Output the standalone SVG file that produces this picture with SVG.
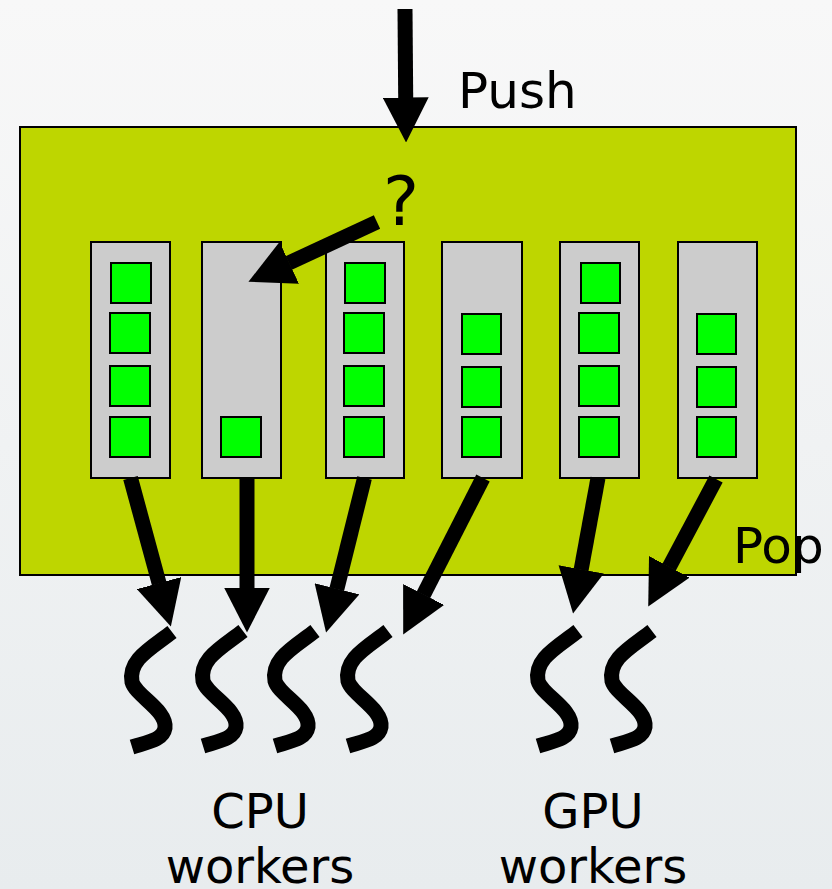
<svg xmlns="http://www.w3.org/2000/svg" xmlns:xlink="http://www.w3.org/1999/xlink" width="832" height="889" viewBox="0 0 832 889">
<defs>
<linearGradient id="bg" x1="0" y1="0" x2="0" y2="1">
<stop offset="0" stop-color="#f8f8f8"/>
<stop offset="1" stop-color="#e8ecee"/>
</linearGradient>
<marker id="head" markerUnits="userSpaceOnUse" viewBox="0 -23 45 46" refX="0.5" refY="0" markerWidth="45" markerHeight="46" orient="auto">
<path d="M0,-23 L45,0 L0,23 Z" fill="#000"/>
</marker>
<path id="sq" d="M0,0 C-22,17 -44,28 -40,50 C-36,64 -5,78 -7,96 C-9,108 -24,110 -40,115"/>
<style>
.lbl{font-family:"DejaVu Sans","Verdana",sans-serif;font-size:48px;fill:#000}
.col{fill:#cccccc;stroke:#000;stroke-width:2}
.item{fill:#00ff00;stroke:#000;stroke-width:2}
.arr{stroke:#000;stroke-width:15;fill:none;marker-end:url(#head)}
.worker{stroke:#000;stroke-width:15;fill:none}
</style>
</defs>
<rect width="832" height="889" fill="url(#bg)"/>
<g id="queue">
<rect x="20" y="127" width="776" height="448" fill="#bed600" stroke="#000" stroke-width="2"/>
</g>
<g id="col1">
<rect class="col" x="91" y="242" width="79" height="236"/>
<rect class="item" x="111" y="263" width="40" height="40"/>
<rect class="item" x="110" y="313" width="40" height="40"/>
<rect class="item" x="110" y="366" width="40" height="40"/>
<rect class="item" x="110" y="417" width="40" height="40"/>
</g>
<g id="col2">
<rect class="col" x="202" y="242" width="79" height="236"/>
<rect class="item" x="221" y="417" width="40" height="40"/>
</g>
<g id="col3">
<rect class="col" x="326" y="242" width="78" height="236"/>
<rect class="item" x="345" y="263" width="40" height="40"/>
<rect class="item" x="344" y="313" width="40" height="40"/>
<rect class="item" x="344" y="366" width="40" height="40"/>
<rect class="item" x="344" y="417" width="40" height="40"/>
</g>
<g id="col4">
<rect class="col" x="442" y="242" width="80" height="236"/>
<rect class="item" x="462" y="314" width="39" height="40"/>
<rect class="item" x="462" y="367" width="39" height="40"/>
<rect class="item" x="462" y="417" width="39" height="40"/>
</g>
<g id="col5">
<rect class="col" x="560" y="242" width="79" height="236"/>
<rect class="item" x="581" y="263" width="39" height="40"/>
<rect class="item" x="579" y="313" width="40" height="40"/>
<rect class="item" x="579" y="366" width="40" height="40"/>
<rect class="item" x="579" y="417" width="40" height="40"/>
</g>
<g id="col6">
<rect class="col" x="678" y="242" width="79" height="236"/>
<rect class="item" x="697" y="314" width="39" height="40"/>
<rect class="item" x="697" y="367" width="39" height="40"/>
<rect class="item" x="697" y="417" width="39" height="40"/>
</g>
<g id="connectors">
<line class="arr" x1="405" y1="9" x2="405.7" y2="98"/>
<line class="arr" x1="377" y1="222" x2="288.8" y2="263"/>
<line class="arr" x1="130.5" y1="478" x2="159.2" y2="583.6"/>
<line class="arr" x1="247" y1="478" x2="247" y2="588"/>
<line class="arr" x1="364.5" y1="478" x2="336.8" y2="589.3"/>
<line class="arr" x1="483" y1="478" x2="423.4" y2="594.9"/>
<line class="arr" x1="598" y1="478" x2="581.1" y2="569.8"/>
<line class="arr" x1="716" y1="479" x2="669.1" y2="567.3"/>
</g>
<g id="cpu-workers">
<use xlink:href="#sq" class="worker" x="172" y="632"/>
<use xlink:href="#sq" class="worker" x="243" y="631"/>
<use xlink:href="#sq" class="worker" x="315" y="631"/>
<use xlink:href="#sq" class="worker" x="388" y="631"/>
</g>
<g id="gpu-workers">
<use xlink:href="#sq" class="worker" x="578" y="631"/>
<use xlink:href="#sq" class="worker" x="652" y="631"/>
</g>
<g id="labels">
<text class="lbl" x="458" y="108" style="font-size:50px">Push</text>
<text class="lbl" x="383" y="225" style="font-size:68px">?</text>
<text class="lbl" x="733" y="563" style="font-size:50px">Pop</text>
<text class="lbl" x="260" y="828" text-anchor="middle">CPU</text>
<text class="lbl" x="260" y="883" text-anchor="middle">workers</text>
<text class="lbl" x="593" y="828" text-anchor="middle">GPU</text>
<text class="lbl" x="593" y="883" text-anchor="middle">workers</text>
</g>
</svg>
